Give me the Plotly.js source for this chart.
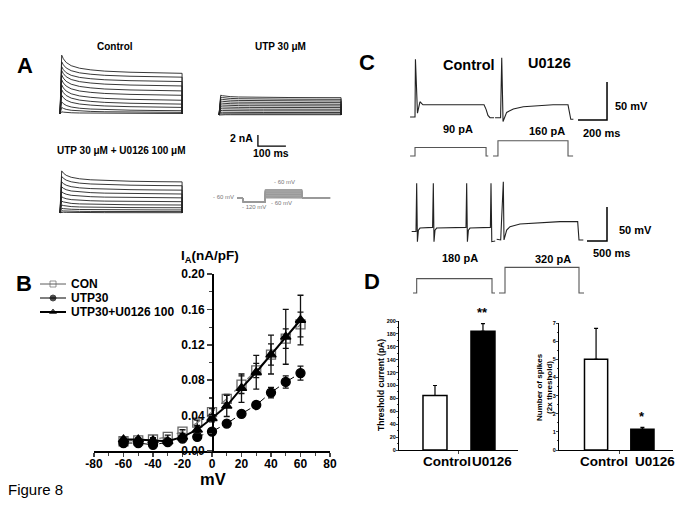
<!DOCTYPE html>
<html><head><meta charset="utf-8">
<script src="https://cdn.plot.ly/plotly-3.0.1.min.js"></script>
<style>html,body{margin:0;padding:0;background:#fff}#chart{width:685px;height:513px}</style>
</head><body><div id="chart"></div>
<script>
// ===== Panel B : I-V relation =====
const voltages = [-60,-50,-40,-30,-20,-10,0,10,20,30,40,50,60];
const conValues = [0.011,0.012,0.013,0.016,0.022,0.032,0.044,0.059,0.075,0.091,0.109,0.127,0.143];
const conErrors = [0.002,0.002,0.002,0.002,0.002,0.003,0.004,0.005,0.010,0.008,0.012,0.011,0.014];
const utpValues = [0.009,0.009,0.007,0.010,0.014,0.016,0.022,0.031,0.042,0.052,0.066,0.078,0.088];
const utpErrors = [0.002,0.002,0.002,0.002,0.002,0.002,0.002,0.002,0.003,0.003,0.006,0.007,0.008];
const uoValues = [0.013,0.013,0.012,0.011,0.016,0.024,0.037,0.051,0.071,0.089,0.109,0.129,0.148];
const uoErrors = [0.002,0.002,0.002,0.002,0.003,0.004,0.004,0.012,0.016,0.019,0.022,0.031,0.028];
const seriesNames = ['CON','UTP30','UTP30+U0126 100'];
const xTickVals = [-80,-60,-40,-20,0,20,40,60,80];
const xTickText = ['-80','-60','-40','-20','0','20','40','60','80'];

// ===== Panel D : bar charts =====
const dCategories = ['Control','U0126'];
const thresholdValues = [84.5, 184];
const thresholdErrors = [15.5, 12];
const thresholdMarks = ['', '**'];
const spikeValues = [5.0, 1.15];
const spikeErrors = [1.7, 0.1];
const spikeMarks = ['', '*'];

// ===== Panel A : outward K+ current families (nA, ms) =====
const stepTimes = [0, 6, 12, 22, 40, 70, 110, 160, 250, 350, 436];
const decayProfile = [0, 1, 0.8, 0.6, 0.42, 0.28, 0.19, 0.12, 0.06, 0.02, 0];
const controlPeak = [10.7, 9.5, 8.6, 7.9, 7.1, 6.2, 5.3, 4.4, 3.4, 2.2, 1.2, 0.4];
const controlSteady = [7.4, 6.7, 5.9, 5.1, 4.2, 3.4, 2.5, 1.8, 1.2, 0.6, 0.3, 0.1];
const utpPeak = [3.6, 3.25, 2.9, 2.55, 2.2, 1.85, 1.5, 1.15, 0.82, 0.5, 0.22, 0.05];
const utpSteady = [3.15, 2.85, 2.55, 2.25, 1.95, 1.65, 1.35, 1.05, 0.75, 0.45, 0.2, 0.05];
const uoPeak = [7.6, 6.6, 5.6, 4.7, 3.8, 2.9, 2.1, 1.4, 0.8, 0.35, 0.1];
const uoSteady = [5.6, 4.9, 4.1, 3.4, 2.7, 2.0, 1.4, 0.9, 0.5, 0.2, 0.0];
const scaleA = {t: [139, 139, 239], i: [-3.64, -5.64, -5.64]}; // 2 nA / 100 ms
// voltage protocol (mV, ms)
const protoTestV = [-60,-50,-40,-30,-20,-10,0,10,20,30,40,50,60];
const protoTimes = [-21, 0, 0, 79, 79, 211, 211, 311];
const protoHold = -60, protoPre = -120;

// ===== Panel C : current-clamp recordings (mV, pA, ms) =====
const c1CtrlT = [-34,-14,0,3,10,17,34,55,241,476,490,503,517,545];
const c1CtrlV = [-66,-66,-66,10,-40,-61,-46,-50,-50,-50,-56,-64,-67,-67];
const c1UoT = [552,590,598,607,632,678,747,839,952,1055,1064,1074,1092];
const c1UoV = [-67,-67,12,-72,-60,-55.5,-52.5,-51,-50,-50,-60,-69,-69];
const c1ScaleT = [1324,1324,1124], c1ScaleV = [-20,-70,-70]; // 50 mV / 200 ms
const c1StepCtrlT = [-34,0,0,490,490,505], c1StepCtrlI = [0,0,90,90,0,0];
const c1StepUoT = [538,572,572,1055,1055,1090], c1StepUoI = [0,0,160,160,0,0];
const c2CtrlT = [-8,100,117,135,160,200,515,533,550,575,615,1350,1367,1385,1410,1450,1960,1975,1995,2080];
const c2CtrlV = [-56,-56,15,-71,-54,-51,-50,15,-71,-54,-51,-50,15,-71,-54,-51,-50,15,-71,-70];
const c2UoT = [2117,2217,2283,2300,2367,2450,2700,3200,3700,4142,4175,4283];
const c2UoV = [-67.5,-68.5,17,-68.5,-54,-49,-45,-43,-41.6,-41.6,-68.5,-68.5];
const c2ScaleT = [4875,4875,4375], c2ScaleV = [-20,-70,-70]; // 50 mV / 500 ms
const c2StepCtrlT = [25,117,117,2000,2000,2075], c2StepCtrlI = [0,0,180,180,0,0];
const c2StepUoT = [2175,2325,2325,4175,4175,4300], c2StepUoI = [0,0,320,320,0,0];

// ---------------------------------------------------------------
const W = 685, H = 513;
const px = v => v / W;
const py = v => 1 - v / H;
const FONT = 'Arial, "Liberation Sans", sans-serif';
const traces = [];
const hid = {visible: false, fixedrange: true};

// Panel B traces
const bStyles = [
  {sym: 'square-open', color: '#666', lc: '#777', dash: 'dash', w: 1.2, size: 9},
  {sym: 'circle', color: '#000', lc: '#000', dash: 'dash', w: 1, size: 9},
  {sym: 'triangle-up', color: '#000', lc: '#000', dash: 'solid', w: 2, size: 9}
];
[[conValues, conErrors], [utpValues, utpErrors], [uoValues, uoErrors]].forEach((d, k) => {
  const s = bStyles[k];
  traces.push({
    type: 'scatter', mode: 'lines+markers', x: voltages, y: d[0], name: seriesNames[k],
    xaxis: 'x', yaxis: 'y', showlegend: false, cliponaxis: false,
    line: {color: s.lc, width: s.w, dash: s.dash},
    marker: {symbol: s.sym, size: s.size, color: s.color, line: {color: s.color, width: 1.3}},
    error_y: {type: 'data', array: d[1], visible: true, color: '#111', thickness: 1.3, width: 3}
  });
});
// manual legend keys
seriesNames.forEach((n, k) => {
  const s = bStyles[k];
  traces.push({
    type: 'scatter', mode: 'lines+markers', x: [0, 1, 2], y: [2 - k, 2 - k, 2 - k],
    xaxis: 'x12', yaxis: 'y12', showlegend: false, hoverinfo: 'skip', cliponaxis: false,
    line: {color: s.lc, width: s.w},
    marker: {symbol: s.sym, size: [0, 6, 0], color: s.color, line: {color: s.color, width: 1}}
  });
});

// Panel D bars
function barPanel(vals, errs, xa, ya) {
  traces.push({
    type: 'bar', x: [0, 1], y: vals, width: 0.5, xaxis: xa, yaxis: ya, showlegend: false,
    marker: {color: ['#fff', '#000'], line: {color: '#000', width: 1.5}},
    error_y: {type: 'data', symmetric: false, array: errs, arrayminus: [0, 0], visible: true,
              color: '#000', thickness: 1.2, width: 2}
  });
}
barPanel(thresholdValues, thresholdErrors, 'x2', 'y2');
barPanel(spikeValues, spikeErrors, 'x3', 'y3');

// Panel A families
function family(peaks, steadies, xa, ya) {
  peaks.forEach((pk, i) => {
    const st = steadies[i];
    const x = [0].concat(stepTimes, [stepTimes[stepTimes.length - 1]]);
    const y = [0].concat(decayProfile.map((f, j) => j === 0 ? 0 : st + (pk - st) * f), [0]);
    traces.push({type: 'scatter', mode: 'lines', x, y, xaxis: xa, yaxis: ya, showlegend: false,
      hoverinfo: 'skip', line: {color: '#222', width: 0.9}});
  });
}
family(controlPeak, controlSteady, 'x4', 'y4');
family(utpPeak, utpSteady, 'x5', 'y5');
family(uoPeak, uoSteady, 'x6', 'y6');
traces.push({type: 'scatter', mode: 'lines', x: scaleA.t, y: scaleA.i, xaxis: 'x5', yaxis: 'y5',
  showlegend: false, line: {color: '#000', width: 1.3}});
protoTestV.forEach(v => {
  traces.push({type: 'scatter', mode: 'lines', x: protoTimes,
    y: [protoHold, protoHold, protoPre, protoPre, v, v, protoHold, protoHold],
    xaxis: 'x7', yaxis: 'y7', showlegend: false, hoverinfo: 'skip', line: {color: '#999', width: 1}});
});

// Panel C
function ln(x, y, xa, ya, color, w) {
  traces.push({type: 'scatter', mode: 'lines', x, y, xaxis: xa, yaxis: ya, showlegend: false,
    hoverinfo: 'skip', line: {color, width: w}});
}
ln(c1CtrlT, c1CtrlV, 'x8', 'y8', '#222', 1.1);
ln(c1UoT, c1UoV, 'x8', 'y8', '#222', 1.1);
ln(c1ScaleT, c1ScaleV, 'x8', 'y8', '#000', 1.5);
ln(c1StepCtrlT, c1StepCtrlI, 'x8', 'y9', '#555', 1.1);
ln(c1StepUoT, c1StepUoI, 'x8', 'y9', '#555', 1.1);
ln(c2CtrlT, c2CtrlV, 'x10', 'y10', '#222', 1.1);
ln(c2UoT, c2UoV, 'x10', 'y10', '#222', 1.1);
ln(c2ScaleT, c2ScaleV, 'x10', 'y10', '#000', 1.5);
ln(c2StepCtrlT, c2StepCtrlI, 'x10', 'y11', '#555', 1.1);
ln(c2StepUoT, c2StepUoI, 'x10', 'y11', '#555', 1.1);

// ---------------------------------------------------------------
const ann = [];
function txt(text, x, y, size, opts = {}) {
  ann.push(Object.assign({text, x: px(x), y: py(y), xref: 'paper', yref: 'paper', showarrow: false,
    xanchor: 'center', yanchor: 'middle', font: {family: FONT, size, color: '#000'}}, opts));
}
const B = s => '<b>' + s + '</b>';
// Panel letters
txt(B('A'), 25, 65, 22); txt(B('B'), 24, 283, 22); txt(B('C'), 367, 62, 22); txt(B('D'), 372, 281, 22);
// Panel A text
txt(B('Control'), 115, 46, 10); txt(B('UTP 30 μM'), 280, 46, 10);
txt(B('UTP 30 μM + U0126 100 μM'), 121, 150, 10);
txt(B('2 nA'), 255, 138, 10.5, {xanchor: 'right'}); txt(B('100 ms'), 271, 153, 10.5);
const gray = {family: FONT, size: 6, color: '#777'};
txt('- 60 mV', 223, 197, 6, {font: gray}); txt('- 60 mV', 284, 182, 6, {font: gray});
txt('- 120 mV', 254, 207, 6, {font: gray}); txt('- 60 mV', 281, 203, 6, {font: gray});
// Panel B text
txt(B('I<sub>A</sub>(nA/pF)'), 210, 256, 13.5); txt(B('mV'), 213, 479, 16.5);
seriesNames.forEach((n, k) => txt(B(n), 69, [284, 298, 312][k], 12, {xanchor: 'left'}));
txt('Figure 8', 6, 489, 15, {xanchor: 'left'});
// Panel C text
txt(B('Control'), 469, 65, 14.5); txt(B('U0126'), 549, 63, 14.5);
txt(B('50 mV'), 613, 106, 11, {xanchor: 'left'}); txt(B('200 ms'), 601, 133, 11);
txt(B('90 pA'), 458, 129, 11); txt(B('160 pA'), 547, 131, 11);
txt(B('50 mV'), 617, 230, 11, {xanchor: 'left'}); txt(B('500 ms'), 611, 253, 11);
txt(B('180 pA'), 460, 258, 11); txt(B('320 pA'), 553, 259, 11);
// Panel D text
txt(B('Threshold current (pA)'), 381, 385, 8.5, {textangle: -90});
txt(B('Number of spikes<br>(2x threshold)'), 544, 387, 8, {textangle: -90});
[[0.26, 1.19], [0.18, 1.27]].forEach((pos, p) => {
  dCategories.forEach((c, i) => ann.push({text: B(c), x: pos[i], y: py(461), xref: p ? 'x3' : 'x2',
    yref: 'paper', yanchor: 'middle', showarrow: false, font: {family: FONT, size: 13.5, color: '#000'}}));
});
thresholdMarks.forEach((m, i) => m && ann.push({text: B(m), x: i, y: thresholdValues[i] + thresholdErrors[i] + 2,
  xref: 'x2', yref: 'y2', yanchor: 'bottom', showarrow: false, font: {family: FONT, size: 13, color: '#000'}}));
spikeMarks.forEach((m, i) => m && ann.push({text: B(m), x: i, y: spikeValues[i] + spikeErrors[i] + 0.05,
  xref: 'x3', yref: 'y3', yanchor: 'bottom', showarrow: false, font: {family: FONT, size: 13, color: '#000'}}));

const tickB = {family: FONT, size: 12, color: '#000', weight: 'bold'};
const tickD = {family: FONT, size: 5.5, color: '#000', weight: 'bold'};
const xd = [94, 330];
const layout = {
  width: W, height: H, margin: {l: 0, r: 0, t: 0, b: 0},
  paper_bgcolor: '#fff', plot_bgcolor: 'rgba(0,0,0,0)', showlegend: false,
  font: {family: FONT, color: '#000'},
  xaxis: {domain: [px(xd[0]), px(xd[1])], range: [-80, 80], anchor: 'y', showline: true, linewidth: 1.5,
    linecolor: '#000', ticks: 'outside', ticklen: 4, tickwidth: 1.5, tickvals: xTickVals, ticktext: xTickText,
    tickfont: tickB, ticklabelstandoff: -3,
    minor: {tickvals: voltages.concat([-70, 70]), ticks: 'outside', ticklen: 3, tickwidth: 1.2},
    showgrid: false, zeroline: false, fixedrange: true},
  yaxis: {domain: [py(451), py(274)], range: [0, 0.2], anchor: 'free',
    position: px(xd[0] + (xd[1] - xd[0]) / 2), showline: true, linewidth: 1.5, linecolor: '#000',
    ticks: 'outside', ticklen: 5, tickwidth: 1.5, tick0: 0, dtick: 0.04, tickformat: '.2f', tickfont: tickB,
    minor: {dtick: 0.02, ticks: 'outside', ticklen: 3, tickwidth: 1.2}, showgrid: false, zeroline: false, fixedrange: true},
  xaxis2: {domain: [px(399), px(518)], range: [-0.75, 1.73], anchor: 'y2', showline: true, linewidth: 1,
    linecolor: '#000', tickvals: [0.5], ticks: 'outside', ticklen: 3, showticklabels: false, showgrid: false,
    zeroline: false, fixedrange: true},
  yaxis2: {domain: [py(450), py(321)], range: [0, 200], anchor: 'x2', showline: true, linewidth: 1,
    linecolor: '#000', ticks: 'outside', ticklen: 2, dtick: 20, tickfont: tickD, ticklabelstandoff: -1,
    minor: {dtick: 10, ticks: 'outside', ticklen: 1.5}, showgrid: false, zeroline: false, fixedrange: true},
  xaxis3: {domain: [px(559), px(673)], range: [-0.80, 1.66], anchor: 'y3', showline: true, linewidth: 1,
    linecolor: '#000', tickvals: [0.5], ticks: 'outside', ticklen: 3, showticklabels: false, showgrid: false,
    zeroline: false, fixedrange: true},
  yaxis3: {domain: [py(450), py(323)], range: [0, 7], anchor: 'x3', showline: true, linewidth: 1,
    linecolor: '#000', ticks: 'outside', ticklen: 2, dtick: 1, tickfont: tickD, ticklabelstandoff: -1,
    minor: {dtick: 0.5, ticks: 'outside', ticklen: 1.5}, showgrid: false, zeroline: false, fixedrange: true},
  // Panel A hidden axes
  xaxis4: Object.assign({domain: [px(55), px(190)], range: [-17.86, 464.3], anchor: 'y4'}, hid),
  yaxis4: Object.assign({domain: [py(120), py(50)], range: [-1.09, 11.64], anchor: 'x4'}, hid),
  xaxis5: Object.assign({domain: [px(212), px(350)], range: [-25, 467.9], anchor: 'y5'}, hid),
  yaxis5: Object.assign({domain: [py(150), py(85)], range: [-6.36, 5.4545], anchor: 'x5'}, hid),
  xaxis6: Object.assign({domain: [px(55), px(190)], range: [-17.86, 464.3], anchor: 'y6'}, hid),
  yaxis6: Object.assign({domain: [py(220), py(160)], range: [-1.327, 9.58], anchor: 'x6'}, hid),
  xaxis7: Object.assign({domain: [px(205), px(335)], range: [-135.7, 328.6], anchor: 'y7'}, hid),
  yaxis7: Object.assign({domain: [py(206), py(185)], range: [-174.3, 125.7], anchor: 'x7'}, hid),
  // Panel C hidden axes
  xaxis8: Object.assign({domain: [px(405), px(615)], range: [-69, 1379], anchor: 'y8'}, hid),
  yaxis8: Object.assign({domain: [py(125), py(52)], range: [-76.6, 19.5], anchor: 'x8'}, hid),
  yaxis9: Object.assign({domain: [py(160), py(135)], range: [-42, 221], anchor: 'x8'}, hid),
  xaxis10: Object.assign({domain: [px(405), px(615)], range: [-175, 5075], anchor: 'y10'}, hid),
  yaxis10: Object.assign({domain: [py(245), py(176)], range: [-75.9, 25.5], anchor: 'x10'}, hid),
  yaxis11: Object.assign({domain: [py(297), py(260)], range: [-50, 412], anchor: 'x10'}, hid),
  // legend key axes
  xaxis12: Object.assign({domain: [px(40), px(66)], range: [0, 2], anchor: 'y12'}, hid),
  yaxis12: Object.assign({domain: [py(318), py(278)], range: [-0.43, 2.43], anchor: 'x12'}, hid),
  annotations: ann
};
Plotly.newPlot('chart', traces, layout, {staticPlot: true, displayModeBar: false});
</script></body></html>
